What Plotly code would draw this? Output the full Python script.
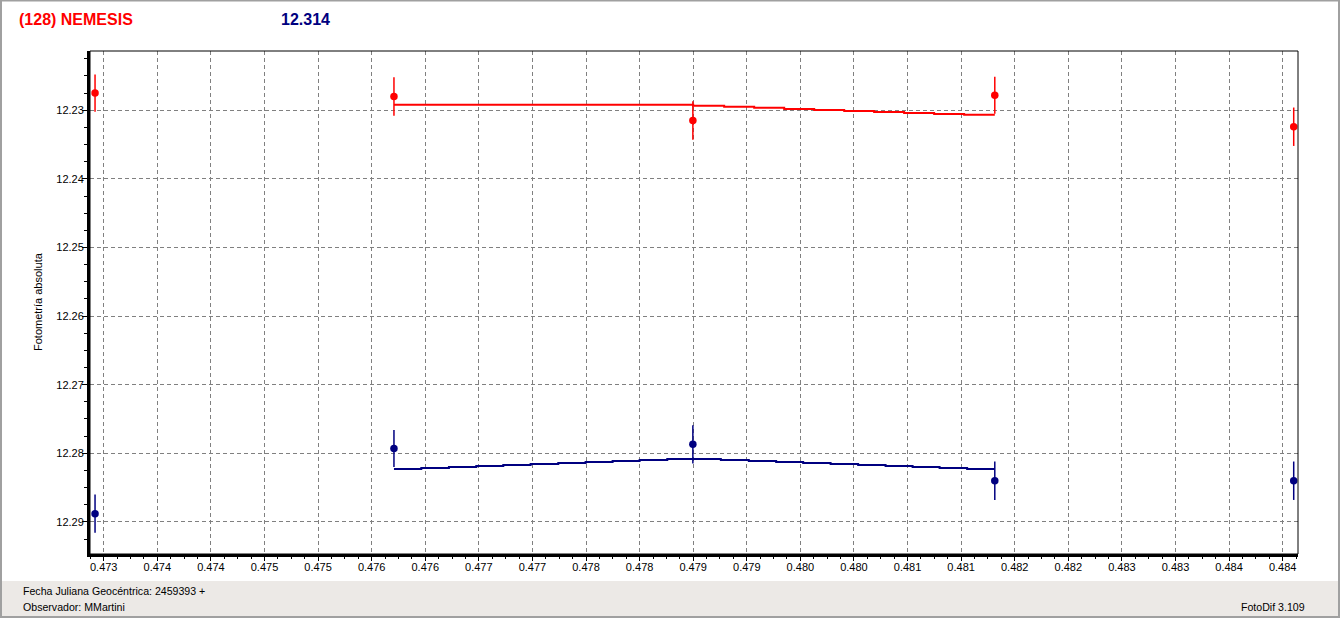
import plotly.graph_objects as go

# ---------------- data ----------------
# observation times (fraction of JD 2459393)
obs_x = [0.472919, 0.475708, 0.478497, 0.481314, 0.484103]

# red series (asteroid) magnitudes and errors
red_mag = [12.2275, 12.2280, 12.2315, 12.2278, 12.2324]
red_err = [0.0027, 0.0028, 0.0028, 0.0027, 0.0028]

# blue series magnitudes and errors
blue_mag = [12.2888, 12.2793, 12.2787, 12.2840, 12.2840]
blue_err = [0.0028, 0.0027, 0.0028, 0.0028, 0.0028]

# fitted step curves
red_fit_x = [0.475708, 0.478500, 0.478789, 0.479069, 0.479349, 0.479629,
             0.479909, 0.480188, 0.480468, 0.480748, 0.481028, 0.481314]
red_fit_y = [12.22918, 12.22933, 12.22948, 12.22962, 12.22981, 12.22996,
             12.23010, 12.23025, 12.23039, 12.23054, 12.23064, 12.23064]

blue_fit_x = [0.475708, 0.475963, 0.476221, 0.476476, 0.476728, 0.476983,
              0.477241, 0.477496, 0.477748, 0.478000, 0.478258, 0.478758,
              0.479019, 0.479274, 0.479526, 0.479782, 0.480039, 0.480295,
              0.480547, 0.480799, 0.481056, 0.481314]
blue_fit_y = [12.28229, 12.28214, 12.28200, 12.28185, 12.28171, 12.28156,
              12.28141, 12.28127, 12.28112, 12.28098, 12.28083, 12.28098,
              12.28112, 12.28127, 12.28141, 12.28156, 12.28171, 12.28185,
              12.28200, 12.28214, 12.28229, 12.28229]

# axis ticks
x_tick_start = 0.473
x_tick_step = 0.0005
x_tick_labels = ["0.473", "0.474", "0.474", "0.475", "0.475", "0.476", "0.476",
                 "0.477", "0.477", "0.478", "0.478", "0.479", "0.479", "0.480",
                 "0.480", "0.481", "0.481", "0.482", "0.482", "0.483", "0.483",
                 "0.484", "0.484"]
x_range = [0.472872, 0.484143]
y_range = [12.29468, 12.22136]  # reversed (magnitudes)

title_name = "(128) NEMESIS"
title_value = "12.314"
y_title = "Fotometría absoluta"
footer_date = "Fecha Juliana Geocéntrica: 2459393 +"
footer_obs = "Observador: MMartini"
footer_app = "FotoDif 3.109"

# ---------------- styling ----------------
RED = "#FF0000"
NAVY = "#000080"
FONT = "Liberation Sans, Arial, sans-serif"
W, H = 1342, 619
L, R, T, B = 90, 44, 51, 65
PW, PH = W - L - R, H - T - B


def fx(px):
    return (px - L) / PW


def fy(py):
    return (H - B - py) / PH


x_tickvals = [x_tick_start + i * x_tick_step for i in range(len(x_tick_labels))]

fig = go.Figure()

fig.add_trace(go.Scatter(x=red_fit_x, y=red_fit_y, mode="lines",
                         line=dict(shape="hv", color=RED, width=2),
                         hoverinfo="skip"))
fig.add_trace(go.Scatter(x=blue_fit_x, y=blue_fit_y, mode="lines",
                         line=dict(shape="hv", color=NAVY, width=2),
                         hoverinfo="skip"))
fig.add_trace(go.Scatter(x=obs_x, y=red_mag, mode="markers",
                         marker=dict(size=7.5, color=RED),
                         error_y=dict(type="data", array=red_err, visible=True,
                                      color=RED, thickness=1.5, width=0)))
fig.add_trace(go.Scatter(x=obs_x, y=blue_mag, mode="markers",
                         marker=dict(size=7.5, color=NAVY),
                         error_y=dict(type="data", array=blue_err, visible=True,
                                      color=NAVY, thickness=1.5, width=0)))

axis_font = dict(family=FONT, size=11, color="#000000")

fig.update_xaxes(
    range=x_range, tickmode="array", tickvals=x_tickvals, ticktext=x_tick_labels,
    ticks="outside", ticklen=4, tickcolor="#000", tickwidth=1,
    showline=True, linewidth=3, linecolor="#000", mirror=False,
    showgrid=True, gridcolor="#808080", gridwidth=1, griddash="4px,3px",
    zeroline=False, tickfont=axis_font, ticklabelstandoff=-3,
    minor=dict(dtick=x_tick_step / 4, tick0=x_tick_start, ticks="outside",
               ticklen=2, tickcolor="#000", showgrid=False),
)
fig.update_yaxes(
    range=y_range, tick0=12.23, dtick=0.01, tickformat=".2f",
    ticks="outside", ticklen=5, tickcolor="#000", tickwidth=1,
    showline=True, linewidth=3, linecolor="#000", mirror=False,
    showgrid=True, gridcolor="#808080", gridwidth=1, griddash="4px,3px",
    zeroline=False, tickfont=axis_font, ticklabelstandoff=-4,
    minor=dict(dtick=0.0025, tick0=12.23, ticks="outside",
               ticklen=3, tickcolor="#000", showgrid=False),
)

shapes = [
    # footer band
    dict(type="rect", xref="paper", yref="paper", x0=fx(0), x1=fx(1340),
         y0=fy(616), y1=fy(581), fillcolor="#ECE9E6", line=dict(width=0),
         layer="below"),
    # thin frame on top/right of plot area
    dict(type="rect", xref="paper", yref="paper", x0=0, x1=1, y0=0, y1=1,
         line=dict(color="#000", width=1), fillcolor="rgba(0,0,0,0)"),
    # window border
    dict(type="rect", xref="paper", yref="paper", x0=fx(1), x1=fx(1339),
         y0=fy(617), y1=fy(0.5), line=dict(color="#A0A0A0", width=2),
         fillcolor="rgba(0,0,0,0)"),
]

annotations = [
    dict(text=f"<b>{title_name}</b>", xref="paper", yref="paper", x=fx(17), y=fy(19),
         xanchor="left", yanchor="middle", showarrow=False,
         font=dict(family=FONT, size=16, color=RED)),
    dict(text=f"<b>{title_value}</b>", xref="paper", yref="paper", x=fx(279), y=fy(19),
         xanchor="left", yanchor="middle", showarrow=False,
         font=dict(family=FONT, size=16, color=NAVY)),
    dict(text=y_title, xref="paper", yref="paper", x=fx(38), y=fy(302),
         xanchor="center", yanchor="middle", textangle=-90, showarrow=False,
         font=dict(family=FONT, size=11, color="#000")),
    dict(text=footer_date, xref="paper", yref="paper", x=fx(21), y=fy(591),
         xanchor="left", yanchor="middle", showarrow=False,
         font=dict(family=FONT, size=10.6, color="#000")),
    dict(text=footer_obs, xref="paper", yref="paper", x=fx(21), y=fy(607),
         xanchor="left", yanchor="middle", showarrow=False,
         font=dict(family=FONT, size=10.6, color="#000")),
    dict(text=footer_app, xref="paper", yref="paper", x=fx(1307), y=fy(607),
         xanchor="right", yanchor="middle", showarrow=False,
         font=dict(family=FONT, size=10.6, color="#000")),
]

fig.update_layout(
    width=W, height=H,
    margin=dict(l=L, r=R, t=T, b=B, autoexpand=False),
    paper_bgcolor="#FFFFFF", plot_bgcolor="#FFFFFF",
    showlegend=False,
    shapes=shapes, annotations=annotations,
    font=dict(family=FONT),
)

fig.write_html(
    "out.html",
    config={"displayModeBar": False},
    post_script="document.body.style.margin='0';document.body.style.overflow='hidden';",
)
